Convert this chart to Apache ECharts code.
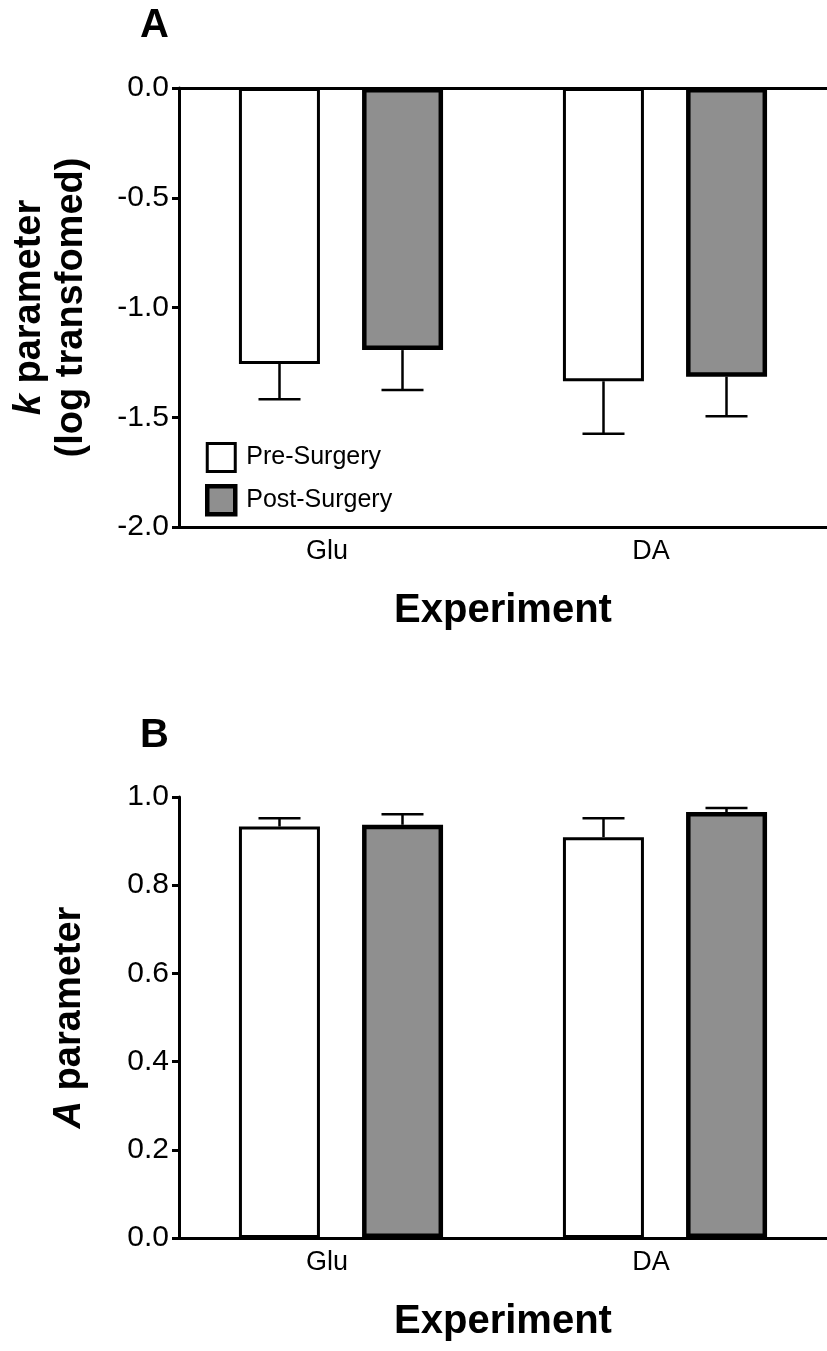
<!DOCTYPE html>
<html><head><meta charset="utf-8">
<script src="https://cdn.jsdelivr.net/npm/echarts@6/dist/echarts.min.js"></script>
<style>html,body{margin:0;padding:0;background:#fff}#c{width:827px;height:1351px}</style>
</head><body><div id="c"></div>
<script>
const categories = ['Glu', 'DA'];
const seriesNames = ['Pre-Surgery', 'Post-Surgery'];
// Panel A: k parameter (log transformed)
const kPre = [-1.257, -1.336];
const kPost = [-1.194, -1.315];
const kPreSem = [0.161, 0.239];
const kPostSem = [0.182, 0.181];
const kTicks = [-2.0, -1.5, -1.0, -0.5, 0.0];
// Panel B: A parameter
const aPre = [0.933, 0.909];
const aPost = [0.937, 0.966];
const aPreSem = [0.019, 0.043];
const aPostSem = [0.024, 0.009];
const aTicks = [0.0, 0.2, 0.4, 0.6, 0.8, 1.0];

const FONT = '"Liberation Sans", Arial, sans-serif';
const BAR_W = 81, OFFSET = 61.5, CAP = 21;
const POST_COLOR = '#8f8f8f';

function errSeries(name, xi, vals, sems, dir, off) {
  return {
    type: 'custom', name: name, xAxisIndex: xi, yAxisIndex: xi, z: 1,
    data: vals.map((v, i) => [i, v, sems[i]]),
    renderItem: function (params, api) {
      const v = api.value(1), s = api.value(2);
      const p0 = api.coord([api.value(0), v]);
      const p1 = api.coord([api.value(0), v + dir * s]);
      const x = p0[0] + off;
      const st = { stroke: '#000', lineWidth: 2.5 };
      return { type: 'group', children: [
        { type: 'line', shape: { x1: x, y1: p0[1], x2: x, y2: p1[1] }, style: st },
        { type: 'line', shape: { x1: x - CAP, y1: p1[1], x2: x + CAP, y2: p1[1] }, style: st }
      ]};
    }
  };
}

function xAx(idx) {
  return {
    type: 'category', gridIndex: idx, data: categories,
    position: 'bottom',
    axisLine: { onZero: false, lineStyle: { color: '#000', width: 3 } },
    axisTick: { alignWithLabel: true, length: 8, lineStyle: { color: '#000', width: 3 } },
    axisLabel: { color: '#000', fontSize: 27, fontFamily: FONT, margin: 11, padding: [0, 28, 0, 0] },
    name: 'Experiment', nameLocation: 'middle', nameGap: 64,
    nameTextStyle: { color: '#000', fontSize: 40, fontWeight: 'bold', fontFamily: FONT }
  };
}
function yAx(idx, min, max, interval, nameRich, gap) {
  return {
    type: 'value', gridIndex: idx, min: min, max: max, interval: interval,
    axisLine: { show: true, lineStyle: { color: '#000', width: 3 } },
    axisTick: { show: true, length: 7, lineStyle: { color: '#000', width: 3 } },
    splitLine: { show: false },
    axisLabel: { color: '#000', fontSize: 30, fontFamily: FONT, margin: 10,
      formatter: v => v.toFixed(1) },
    name: nameRich, nameLocation: 'middle', nameRotate: 90, nameGap: gap,
    nameTextStyle: { color: '#000', fontFamily: FONT, lineHeight: 42,
      rich: {
        i: { fontSize: 38, fontWeight: 'bold', fontStyle: 'italic', fontFamily: FONT, color: '#000', lineHeight: 42 },
        b: { fontSize: 38, fontWeight: 'bold', fontFamily: FONT, color: '#000', lineHeight: 42 }
      } }
  };
}

const chart = echarts.init(document.getElementById('c'), null, { renderer: 'canvas' });
chart.setOption({
  backgroundColor: '#fff',
  animation: false,
  grid: [
    { left: 179, top: 88, width: 660, height: 439 },
    { left: 179, top: 797, width: 660, height: 441 }
  ],
  xAxis: [xAx(0), xAx(1)],
  yAxis: [
    yAx(0, kTicks[0], kTicks[kTicks.length - 1], 0.5, '{i|k}{b| parameter}\n{b|(log transfomed)}', 86),
    yAx(1, aTicks[0], aTicks[aTicks.length - 1], 0.2, '{i|A}{b| parameter}', 88)
  ],
  legend: {
    orient: 'vertical', left: 200, top: 437, itemWidth: 28, itemHeight: 28, itemGap: 11,
    icon: 'rect',
    textStyle: { color: '#000', fontSize: 25, fontFamily: FONT, padding: [0, 0, 0, 6] },
    data: [
      { name: seriesNames[0], itemStyle: { color: '#fff', borderColor: '#000', borderWidth: 3 } },
      { name: seriesNames[1], itemStyle: { color: POST_COLOR, borderColor: '#000', borderWidth: 4.5 } }
    ]
  },
  graphic: [
    { type: 'text', left: 140, top: 6, style: { text: 'A', font: 'bold 40px ' + FONT, fill: '#000' } },
    { type: 'text', left: 140, top: 716, style: { text: 'B', font: 'bold 40px ' + FONT, fill: '#000' } }
  ],
  series: [
    { type: 'bar', name: seriesNames[0], xAxisIndex: 0, yAxisIndex: 0, data: kPre,
      barWidth: BAR_W, barGap: '52%', z: 2,
      itemStyle: { color: '#fff', borderColor: '#000', borderWidth: 3 },
      markLine: { silent: true, symbol: 'none', label: { show: false },
        lineStyle: { color: '#000', width: 3, type: 'solid' }, data: [{ yAxis: 0 }] } },
    { type: 'bar', name: seriesNames[1], xAxisIndex: 0, yAxisIndex: 0, data: kPost,
      barWidth: BAR_W, barGap: '52%', z: 2,
      itemStyle: { color: POST_COLOR, borderColor: '#000', borderWidth: 4.5 } },
    errSeries(seriesNames[0], 0, kPre, kPreSem, -1, -OFFSET),
    errSeries(seriesNames[1], 0, kPost, kPostSem, -1, OFFSET),
    { type: 'bar', name: seriesNames[0], xAxisIndex: 1, yAxisIndex: 1, data: aPre,
      barWidth: BAR_W, barGap: '52%', z: 2,
      itemStyle: { color: '#fff', borderColor: '#000', borderWidth: 3 } },
    { type: 'bar', name: seriesNames[1], xAxisIndex: 1, yAxisIndex: 1, data: aPost,
      barWidth: BAR_W, barGap: '52%', z: 2,
      itemStyle: { color: POST_COLOR, borderColor: '#000', borderWidth: 4.5 } },
    errSeries(seriesNames[0], 1, aPre, aPreSem, 1, -OFFSET),
    errSeries(seriesNames[1], 1, aPost, aPostSem, 1, OFFSET)
  ]
});
</script>
</body></html>
